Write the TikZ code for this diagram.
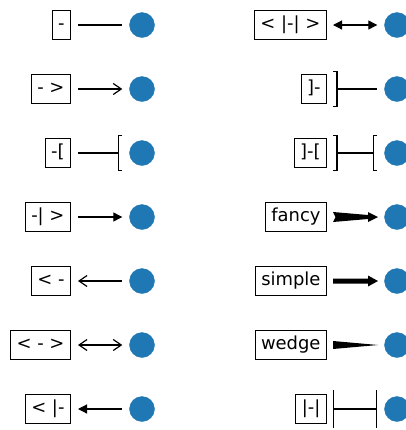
\documentclass[tikz,border=0pt]{standalone}
\usepackage{fontspec}
\setmainfont{DejaVu Sans}
\usetikzlibrary{arrows.meta}
\definecolor{dotblue}{HTML}{1F77B4}
\tikzset{
  stylebox/.style={draw, line width=1bp, anchor=east, inner xsep=6bp, inner ysep=6bp,
    font=\fontsize{18}{22}\selectfont, text height=13.5bp, text depth=4bp},
  dot/.style={circle, fill=dotblue, draw=dotblue, minimum size=25bp, inner sep=0pt},
  conn/.style={line width=1.2bp, shorten <=7bp, shorten >=7bp},
  barbtip/.tip={Straight Barb[length=8bp, width=11bp]},
  tritip/.tip={Triangle[length=9bp, width=9bp]},
  brktip/.tip={Bracket[reversed, length=4bp, width=36bp]},
  bartip/.tip={Bar[width=38bp]},
}
\begin{document}
\begin{tikzpicture}[x=1bp, y=-1bp]
    \useasboundingbox (0,0) rectangle (406,430);

    % left column
    \node[stylebox] (s1) at (71,25) {-};
    \node[stylebox] (s2) at (71,89) {- >};
    \node[stylebox] (s3) at (71,153) {-[};
    \node[stylebox] (s4) at (71,217) {-| >};
    \node[stylebox] (s5) at (71,281) {< -};
    \node[stylebox] (s6) at (71,345) {< - >};
    \node[stylebox] (s7) at (71,409) {< |-};
    \node[dot] (m1) at (142,25) {};
    \node[dot] (m2) at (142,89) {};
    \node[dot] (m3) at (142,153) {};
    \node[dot] (m4) at (142,217) {};
    \node[dot] (m5) at (142,281) {};
    \node[dot] (m6) at (142,345) {};
    \node[dot] (m7) at (142,409) {};

    \draw[conn] (s1) -- (m1);
    \draw[conn, -barbtip] (s2) -- (m2);
    \draw[conn, -brktip] (s3) -- (m3);
    \draw[conn, -tritip] (s4) -- (m4);
    \draw[conn, barbtip-] (s5) -- (m5);
    \draw[conn, barbtip-barbtip] (s6) -- (m6);
    \draw[conn, tritip-] (s7) -- (m7);

    % right column
    \node[stylebox] (s8) at (327,25) {< |-| >};
    \node[stylebox] (s9) at (327,89) {]-};
    \node[stylebox] (s10) at (327,153) {]-[};
    \node[stylebox] (s11) at (327,217) {fancy};
    \node[stylebox] (s12) at (327,281) {simple};
    \node[stylebox] (s13) at (327,345) {wedge};
    \node[stylebox] (s14) at (327,409) {|-|};
    \node[dot] (m8) at (397,25) {};
    \node[dot] (m9) at (397,89) {};
    \node[dot] (m10) at (397,153) {};
    \node[dot] (m11) at (397,217) {};
    \node[dot] (m12) at (397,281) {};
    \node[dot] (m13) at (397,345) {};
    \node[dot] (m14) at (397,409) {};

    \draw[conn, shorten <=6bp, tritip-tritip] (s8) -- (m8);
    \draw[conn, shorten <=6bp, brktip-] (s9) -- (m9);
    \draw[conn, shorten <=6bp, brktip-brktip] (s10) -- (m10);
    \draw[conn, shorten <=6bp, bartip-bartip] (s14) -- (m14);

    % filled styles
    \fill[shift={(s11.east)}, xshift=6bp] (2.5,0) -- (0,-5) -- (35,-2) -- (35,-5)
        -- (45,0) -- (35,5) -- (35,2) -- (0,5) -- cycle;
    \fill[shift={(s12.east)}, xshift=6bp] (0,-2.5) -- (35,-2.5) -- (35,-5.5)
        -- (45,0) -- (35,5.5) -- (35,2.5) -- (0,2.5) -- cycle;
    \fill[shift={(s13.east)}, xshift=6bp] (0,-4) -- (45,0) -- (0,4) -- cycle;
\end{tikzpicture}
\end{document}
